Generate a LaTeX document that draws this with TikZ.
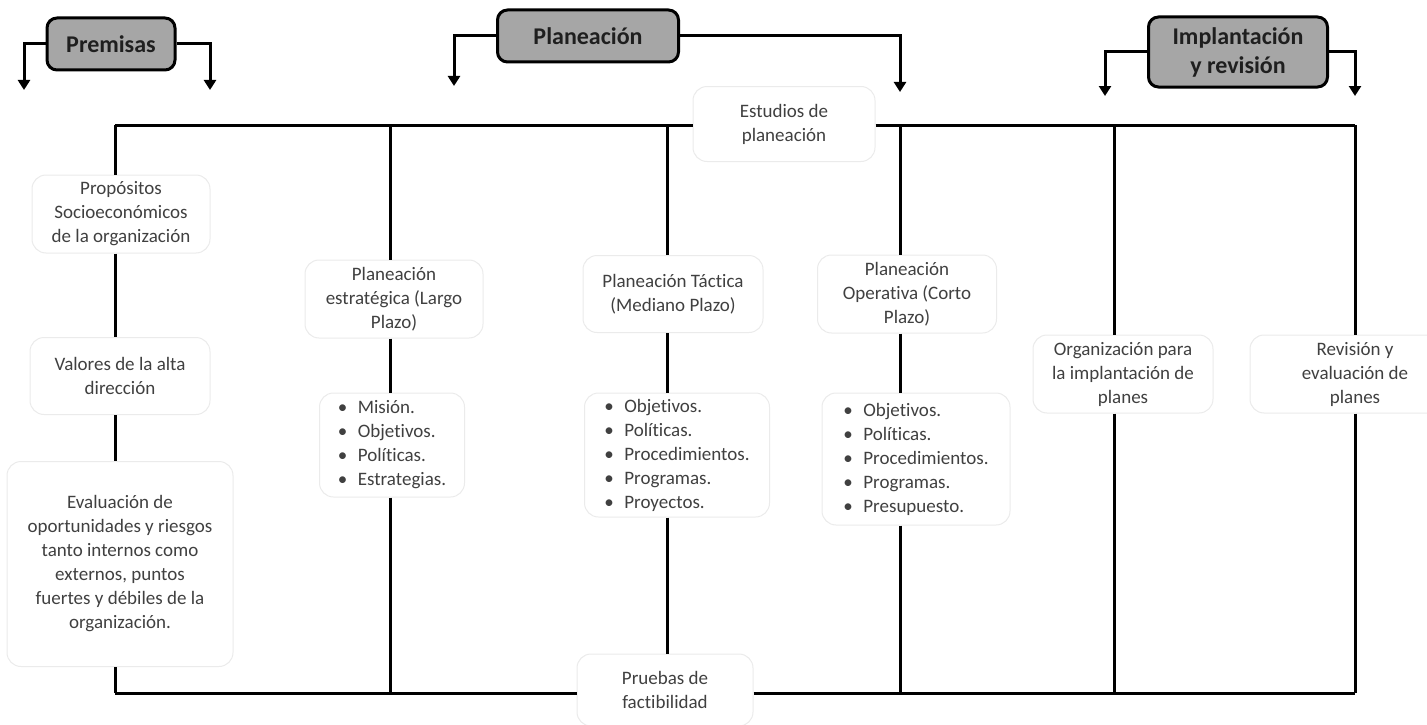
\documentclass[tikz,border=0pt]{standalone}
\usepackage{fontspec}
\setmainfont{Carlito}[RawFeature={-liga;-clig;-calt;-dlig}]
\usetikzlibrary{arrows.meta}
\definecolor{hdrfill}{HTML}{A6A6A6}
\definecolor{txt}{HTML}{404040}
\newcommand\bitem{\makebox[20pt][l]{\textbullet}}
\begin{document}
\begin{tikzpicture}[x=1pt,y=-1pt,
  box/.style={draw=black!8, line width=1pt, fill=white, rounded corners=14pt,
    align=center, text=txt, font=\fontsize{19}{24}\selectfont, inner sep=0pt},
  listbox/.style={box, align=left},
  hdr/.style={draw=black, line width=3pt, fill=hdrfill, rounded corners=10pt,
    align=center, inner sep=0pt, font=\fontsize{24}{29}\selectfont\bfseries, text=black!88},
  ln/.style={line width=3pt, black},
  arr/.style={line width=3pt, -{Triangle[width=12pt,length=10pt]}}
]
\useasboundingbox (0,0) rectangle (1427,725);

% phase headers
\node[hdr, minimum width=128pt, minimum height=52pt] (prem) at (111,44) {Premisas};
\node[hdr, minimum width=181pt, minimum height=52pt] (plan) at (588,36) {Planeación};
\node[hdr, minimum width=179pt, minimum height=70pt] (impl) at (1238,52) {Implantación\\y revisión};

% arrow ends below the headers
\coordinate (pa1) at (24,90);
\coordinate (pa2) at (210,90);
\coordinate (pb1) at (454,86);
\coordinate (pb2) at (900,92);
\coordinate (pc1) at (1105,96);
\coordinate (pc2) at (1355,96);

\draw[arr] (prem.west) -| (pa1);
\draw[arr] (prem.east) -| (pa2);
\draw[arr] (plan.west) -| (pb1);
\draw[arr] (plan.east) -| (pb2);
\draw[arr] (impl.west) -| (pc1);
\draw[arr] (impl.east) -| (pc2);

% boxes
\node[box, minimum width=182pt, minimum height=75pt] (estud) at (784,124) {Estudios de\\planeación};
\node[box, minimum width=178pt, minimum height=78pt] (prop) at (121,214) {Propósitos\\Socioeconómicos\\de la organización};
\node[box, minimum width=180pt, minimum height=77pt] (val) at (120,376) {Valores de la alta\\dirección};
\node[box, minimum width=226pt, minimum height=205pt] (eval) at (120,564) {Evaluación de\\oportunidades y riesgos\\tanto internos como\\externos, puntos\\fuertes y débiles de la\\organización.};
\node[box, minimum width=178pt, minimum height=78pt] (estr) at (394,299) {Planeación\\estratégica (Largo\\Plazo)};
\node[listbox, minimum width=145pt, minimum height=104pt] (estrl) at (392,445) {\bitem Misión.\\\bitem Objetivos.\\\bitem Políticas.\\\bitem Estrategias.};
\node[box, minimum width=180pt, minimum height=77pt] (tact) at (673,294) {Planeación Táctica\\(Mediano Plazo)};
\node[listbox, minimum width=185pt, minimum height=124pt] (tactl) at (677,455) {\bitem Objetivos.\\\bitem Políticas.\\\bitem Procedimientos.\\\bitem Programas.\\\bitem Proyectos.};
\node[box, minimum width=179pt, minimum height=78pt] (oper) at (907,294) {Planeación\\Operativa (Corto\\Plazo)};
\node[listbox, minimum width=188pt, minimum height=132pt] (operl) at (916,459) {\bitem Objetivos.\\\bitem Políticas.\\\bitem Procedimientos.\\\bitem Programas.\\\bitem Presupuesto.};
\node[box, minimum width=180pt, minimum height=78pt] (org) at (1123,374) {Organización para\\la implantación de\\planes};
\node[box, minimum width=210pt, minimum height=78pt] (rev) at (1355,374) {Revisión y\\evaluación de\\planes};
\node[box, minimum width=176pt, minimum height=72pt] (pru) at (665,690) {Pruebas de\\factibilidad};

% frame lines
\coordinate (t1) at (115,125);
\coordinate (t2) at (390,125);
\coordinate (t3) at (667,125);
\coordinate (t4) at (900,125);
\coordinate (t5) at (1114,125);
\coordinate (t6) at (1355,125);
\coordinate (b1) at (115,693);
\coordinate (b2) at (390,693);
\coordinate (b4) at (900,693);
\coordinate (b5) at (1114,693);
\coordinate (b6) at (1355,693);

\draw[ln] (t1) -- (t1 -| estud.west);
\draw[ln] (t6 -| estud.east) -- (t6);
\draw[ln] (b1 -| pru.west) -- (b1);
\draw[ln] (b6 -| pru.east) -- (b6);

% column 1
\draw[ln] (t1) -- (t1 |- prop.north);
\draw[ln] (t1 |- prop.south) -- (t1 |- val.north);
\draw[ln] (t1 |- val.south) -- (t1 |- eval.north);
\draw[ln] (t1 |- eval.south) -- (b1);
% column 2
\draw[ln] (t2) -- (t2 |- estr.north);
\draw[ln] (t2 |- estr.south) -- (t2 |- estrl.north);
\draw[ln] (t2 |- estrl.south) -- (b2);
% column 3
\draw[ln] (t3) -- (t3 |- tact.north);
\draw[ln] (t3 |- tact.south) -- (t3 |- tactl.north);
\draw[ln] (t3 |- tactl.south) -- (t3 |- pru.north);
% column 4
\draw[ln] (t4) -- (t4 |- oper.north);
\draw[ln] (t4 |- oper.south) -- (t4 |- operl.north);
\draw[ln] (t4 |- operl.south) -- (b4);
% column 5
\draw[ln] (t5) -- (t5 |- org.north);
\draw[ln] (t5 |- org.south) -- (b5);
% column 6
\draw[ln] (t6) -- (t6 |- rev.north);
\draw[ln] (t6 |- rev.south) -- (b6);
\end{tikzpicture}
\end{document}
